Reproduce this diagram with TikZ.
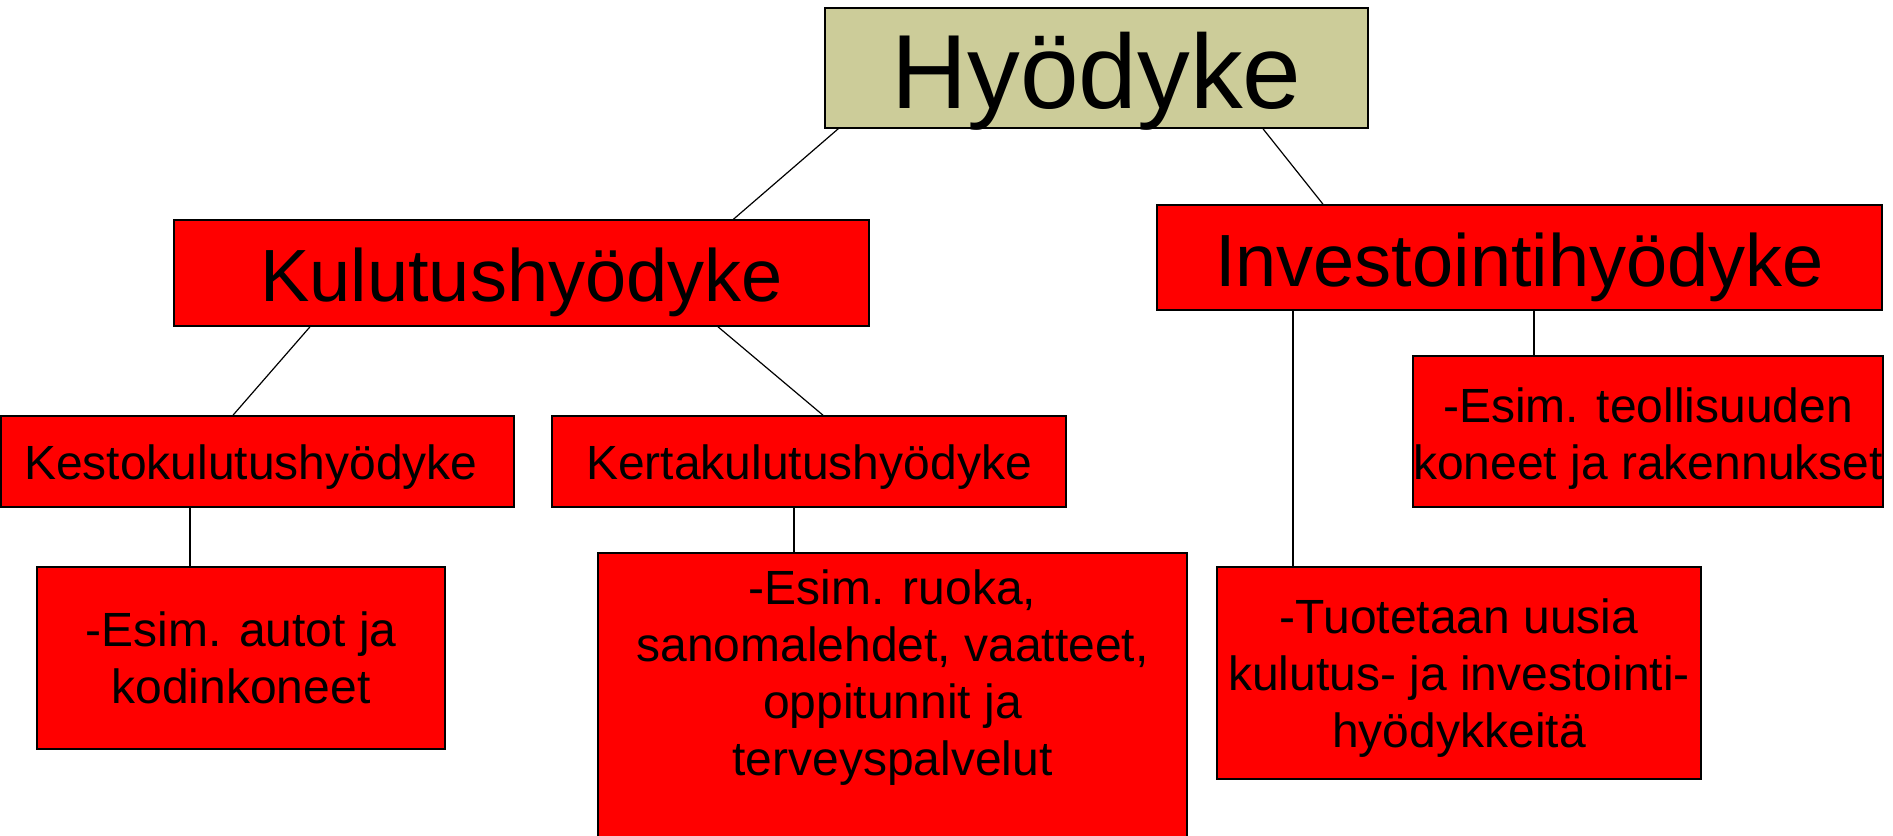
\documentclass[tikz,border=0pt]{standalone}
\usepackage{fontspec}
\setmainfont{Liberation Sans}
\definecolor{hyodykeoliivi}{RGB}{204,204,153}
\begin{document}
\begin{tikzpicture}[
		x=0.5pt, y=-0.5pt,
		box/.style = {
			rectangle,
			draw,
			line width=0.8pt,
			inner sep=0pt,
			align=center
		},
		juuri/.style = {box, fill=hyodykeoliivi, font=\fontsize{52.7}{60}\selectfont, text height=40pt, text depth=0pt},
		haara/.style = {box, fill=red, font=\fontsize{37}{44}\selectfont, text height=28.5pt, text depth=0pt},
		lehti/.style = {box, fill=red, font=\fontsize{24}{28.5}\selectfont},
		viiva/.style = {line width=0.6pt}
	]
	\useasboundingbox (0,0) rectangle (1893,835);
	\clip (0,0) rectangle (1893,835);
	% ylin taso
	\node[juuri, minimum width=271.5pt, minimum height=60pt]   (hyodyke)   at (1096.5,68)  {Hyödyke};
	\node[haara, minimum width=347.5pt, minimum height=53pt]   (kulutus)   at (521.5,273)  {Kulutushyödyke};
	\node[haara, minimum width=362.5pt, minimum height=52.5pt] (investointi) at (1519.5,257.5) {Investointihyödyke};
	% kulutushyödykkeet
	\node[lehti, minimum width=256.5pt, minimum height=45.5pt, text height=17.5pt, text depth=0pt] (kesto) at (257.5,461.5) {Kestokulutushyödyke\ };
	\node[lehti, minimum width=257pt, minimum height=45.5pt, text height=17.5pt, text depth=0pt]   (kerta) at (809,461.5)   {Kertakulutushyödyke};
	\node[lehti, minimum width=204pt, minimum height=91pt]     (autot)     at (241,658)     {-Esim. autot ja\\kodinkoneet};
	\node[lehti, minimum width=294.5pt, minimum height=163.5pt] (ruoka)    at (892.5,716.5) {};
	\node[font=\fontsize{24}{28.5}\selectfont, align=center, inner sep=0pt, below=8.5pt] (ruokateksti) at (ruoka.north)
		{-Esim. ruoka,\\sanomalehdet, vaatteet,\\oppitunnit ja\\terveyspalvelut};
	% investointihyödykkeet
	\node[lehti, minimum width=242pt, minimum height=106pt, text height=79.2pt]   (tuotetaan)  at (1459,673)   {-Tuotetaan uusia\\kulutus- ja investointi-\\hyödykkeitä};
	\node[lehti, minimum width=234pt, minimum height=75.5pt, text height=52.7pt]  (teollisuus) at (1648,431.5) {-Esim. teollisuuden\\koneet ja rakennukset};

	\draw[viiva] ([xshift=7pt]hyodyke.south west) -- ([xshift=106pt]kulutus.north);
	\draw[viiva] ([xshift=83.25pt]hyodyke.south) -- ([xshift=-98.25pt]investointi.north);
	\draw[viiva] ([xshift=-105.75pt]kulutus.south) -- ([xshift=-12.25pt]kesto.north);
	\draw[viiva] ([xshift=98.25pt]kulutus.south) -- ([xshift=7pt]kerta.north);
	\draw[viiva] ([xshift=-33.75pt]kesto.south) -- ([xshift=-33.75pt]kesto.south |- autot.north);
	\draw[viiva] ([xshift=-7.5pt]kerta.south) -- ([xshift=-7.5pt]kerta.south |- ruoka.north);
	\draw[viiva] ([xshift=-113.25pt]investointi.south) -- ([xshift=-113.25pt]investointi.south |- tuotetaan.north);
	\draw[viiva] ([xshift=7.25pt]investointi.south) -- ([xshift=7.25pt]investointi.south |- teollisuus.north);
\end{tikzpicture}
\end{document}
